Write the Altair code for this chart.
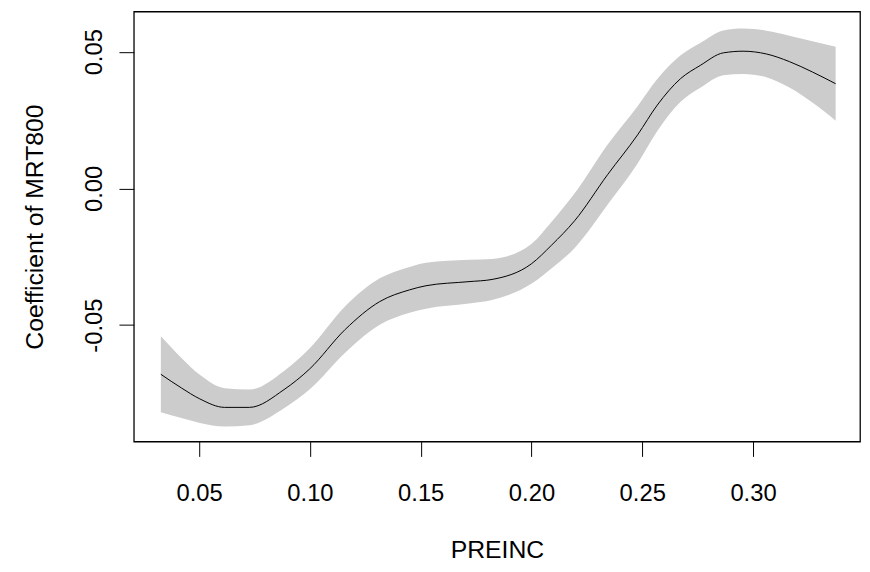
import altair as alt
import pandas as pd

preinc = [0.0327, 0.0420, 0.0503, 0.0615, 0.0727, 0.0883, 0.0998, 0.1159, 0.1315,
          0.1450, 0.1524, 0.1718, 0.1822, 0.2001, 0.2090, 0.2195, 0.2344, 0.2479,
          0.2568, 0.2672, 0.2762, 0.2866, 0.2955, 0.3060, 0.3164, 0.3268, 0.3373]
coef = [-0.0680, -0.0730, -0.0770, -0.0801, -0.0801, -0.0736, -0.0661, -0.0516, -0.0414,
        -0.0371, -0.0356, -0.0341, -0.0333, -0.0275, -0.0208, -0.0118, 0.0051, 0.0196,
        0.0305, 0.0401, 0.0450, 0.0496, 0.0502, 0.0492, 0.0464, 0.0426, 0.0383]
lower = [-0.0819, -0.0840, -0.0858, -0.0871, -0.0866, -0.0804, -0.0736, -0.0601, -0.0499,
         -0.0455, -0.0440, -0.0421, -0.0408, -0.0348, -0.0293, -0.0218, -0.0059, 0.0091,
         0.0210, 0.0316, 0.0368, 0.0414, 0.0419, 0.0407, 0.0369, 0.0314, 0.0248]
upper = [-0.0541, -0.0620, -0.0682, -0.0731, -0.0736, -0.0668, -0.0586, -0.0431, -0.0329,
         -0.0287, -0.0272, -0.0261, -0.0258, -0.0202, -0.0123, -0.0018, 0.0161, 0.0301,
         0.0400, 0.0486, 0.0532, 0.0578, 0.0585, 0.0577, 0.0559, 0.0538, 0.0518]

x_ticks = [0.05, 0.10, 0.15, 0.20, 0.25, 0.30]
y_ticks = [-0.05, 0.00, 0.05]

df = pd.DataFrame({"PREINC": preinc, "coef": coef, "lower": lower, "upper": upper})

FONT = "Liberation Sans, Arial, sans-serif"
FS = 24
TFS = 25

x_axis = alt.Axis(values=x_ticks, format=".2f", grid=False, domain=False,
                  tickSize=15, tickColor="black", tickWidth=1,
                  labelFont=FONT, labelFontSize=FS, labelColor="black",
                  labelBaseline="alphabetic", labelPadding=45,
                  title="PREINC", titleFont=FONT, titleFontSize=TFS,
                  titleFontWeight="normal", titleColor="black",
                  titleBaseline="alphabetic", titleX=366.5, titleY=117,
                  titleAlign="center")
y_axis = alt.Axis(values=y_ticks, grid=False, domain=False,
                  labelExpr="datum.value < 0 ? '-' + format(-datum.value, '.2f') : format(datum.value, '.2f')",
                  tickSize=15, tickColor="black", tickWidth=1,
                  labelFont=FONT, labelFontSize=FS, labelColor="black",
                  labelAngle=270, labelAlign="center", labelBaseline="alphabetic",
                  labelPadding=18,
                  title="Coefficient of MRT800", titleFont=FONT, titleFontSize=TFS,
                  titleFontWeight="normal", titleColor="black",
                  titleAngle=270, titleAlign="center", titleBaseline="alphabetic",
                  titleX=-92, titleY=217)

xs = alt.Scale(domain=[0.0205, 0.3483], nice=False, zero=False)
ys = alt.Scale(domain=[-0.0926, 0.0647], nice=False, zero=False)

band = alt.Chart(df).mark_area(color="#cccccc", interpolate="monotone", opacity=1).encode(
    x=alt.X("PREINC:Q", scale=xs, axis=x_axis),
    y=alt.Y("lower:Q", scale=ys, axis=y_axis),
    y2="upper:Q",
)
line = alt.Chart(df).mark_line(color="black", strokeWidth=1, interpolate="monotone").encode(
    x=alt.X("PREINC:Q", scale=xs),
    y=alt.Y("coef:Q", scale=ys),
)

chart = (band + line).properties(
    width=733, height=434,
    background="white",
    autosize=alt.AutoSizeParams(type="none"),
    padding={"left": 127, "top": 1, "right": 2, "bottom": 121},
).configure_view(stroke="black", strokeWidth=1.3)

chart.save("out.html", embed_options={"renderer": "svg", "actions": False})
